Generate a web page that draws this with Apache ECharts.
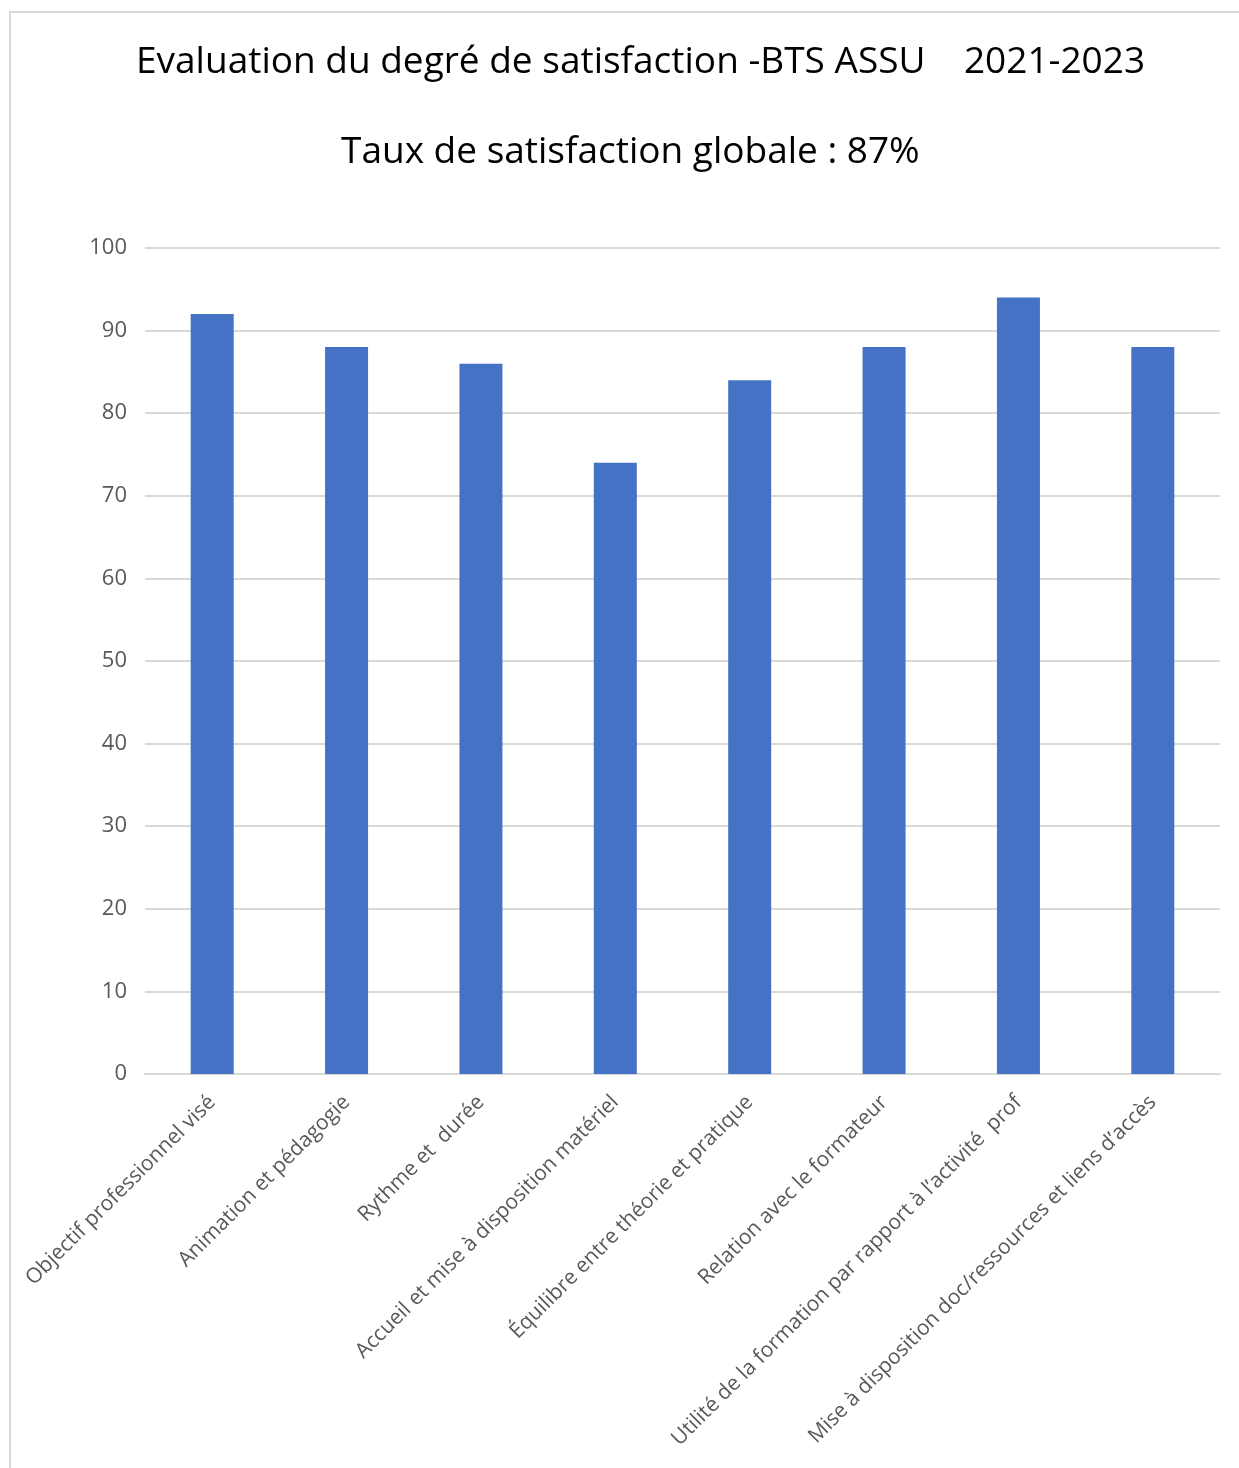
<!DOCTYPE html>
<html>
<head>
<meta charset="utf-8">
<script src="https://cdn.jsdelivr.net/npm/echarts@6/dist/echarts.min.js"></script>
<style>
  html, body { margin: 0; padding: 0; background: #ffffff; }
  #frame { position: absolute; left: 9px; top: 11px; width: 1300px; height: 1500px; border: 2px solid #d9d9d9; box-sizing: border-box; }
  #chart { position: absolute; left: 0; top: 0; width: 1239px; height: 1468px; }
</style>
</head>
<body>
<div id="frame"></div>
<div id="chart"></div>
<script>
const titleLine1 = 'Evaluation du degré de satisfaction -BTS ASSU    2021-2023';
const titleLine2 = 'Taux de satisfaction globale : 87%';
const categories = [
  'Objectif professionnel visé',
  'Animation et pédagogie',
  'Rythme et  durée',
  'Accueil et mise à disposition matériel',
  'Équilibre entre théorie et pratique',
  'Relation avec le formateur',
  'Utilité de la formation par rapport à l’activité  prof',
  'Mise à disposition doc/ressources et liens d’accès'
];
const satisfaction = [92, 88, 86, 74, 84, 88, 94, 88];
const yMin = 0, yMax = 100, yStep = 10;

const chart = echarts.init(document.getElementById('chart'), null, { renderer: 'canvas' });
const font = '"Open Sans", "Noto Sans", sans-serif';
chart.setOption({
  backgroundColor: 'transparent',
  animation: false,
  title: [
    { text: titleLine1, left: 131, top: 39,
      textStyle: { fontFamily: font, fontSize: 37, fontWeight: 'normal', color: '#000000' } },
    { text: titleLine2, left: 336, top: 129,
      textStyle: { fontFamily: font, fontSize: 37, fontWeight: 'normal', color: '#000000' } }
  ],
  grid: { left: 145, right: 19, top: 248, bottom: 394, containLabel: false },
  xAxis: {
    type: 'category',
    data: categories,
    axisLine: { lineStyle: { color: '#d9d9d9', width: 2 } },
    axisTick: { show: false },
    axisLabel: { rotate: 45, interval: 0, margin: 25, fontFamily: font, fontSize: 21, color: '#595959' }
  },
  yAxis: {
    type: 'value',
    min: yMin, max: yMax, interval: yStep,
    axisLine: { show: false },
    axisTick: { show: false },
    splitLine: { lineStyle: { color: '#d9d9d9', width: 2 } },
    axisLabel: { margin: 18, fontFamily: font, fontSize: 22, color: '#595959', padding: [8, 0, 0, 0] }
  },
  series: [{
    type: 'bar',
    data: satisfaction,
    barWidth: '32%',
    itemStyle: { color: '#4472C4' }
  }]
});
</script>
</body>
</html>
